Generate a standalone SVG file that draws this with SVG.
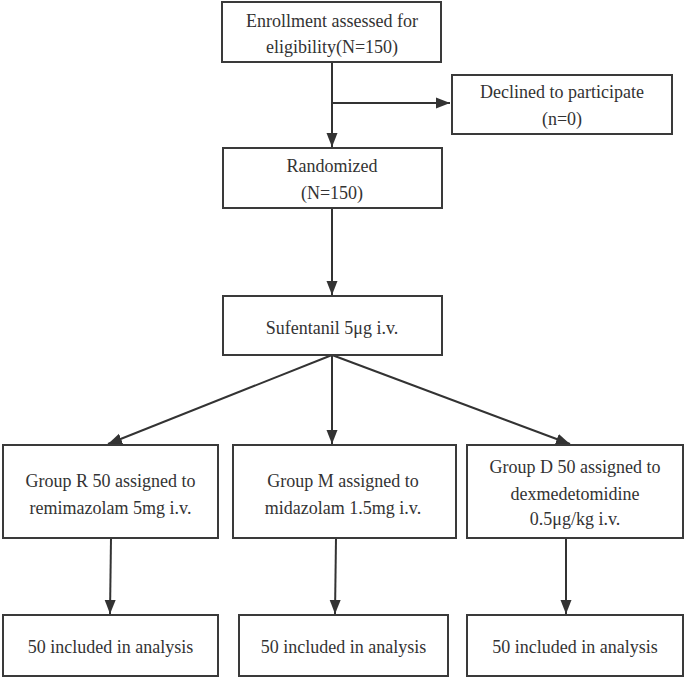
<svg xmlns="http://www.w3.org/2000/svg" width="685" height="677" viewBox="0 0 685 677">
<style>
.box{fill:#fff;stroke:#3a3a3a;stroke-width:2}
.t{font-family:"Liberation Serif","Times New Roman",serif;font-size:18px;fill:#333;text-anchor:middle}
.c{stroke:#333;stroke-width:2;fill:none}
</style>
<defs>
<marker id="ah" markerUnits="userSpaceOnUse" markerWidth="14" markerHeight="14" viewBox="0 0 14 14" refX="14" refY="7" orient="auto">
<path d="M0,1.5 L14,7 L0,12.5 Z" fill="#333"/>
</marker>
</defs>
<rect width="685" height="677" fill="#fff"/>
<g id="connectors">
<line class="c" x1="332" y1="62" x2="332" y2="147" marker-end="url(#ah)"/>
<line class="c" x1="332" y1="103" x2="450" y2="103" marker-end="url(#ah)"/>
<line class="c" x1="332" y1="208" x2="332" y2="295" marker-end="url(#ah)"/>
<line class="c" x1="332" y1="355" x2="108" y2="444" marker-end="url(#ah)"/>
<line class="c" x1="332" y1="355" x2="332" y2="444" marker-end="url(#ah)"/>
<line class="c" x1="332" y1="355" x2="570" y2="444" marker-end="url(#ah)"/>
<line class="c" x1="111" y1="538" x2="110" y2="614" marker-end="url(#ah)"/>
<line class="c" x1="336" y1="538" x2="335" y2="614" marker-end="url(#ah)"/>
<line class="c" x1="566" y1="538" x2="566" y2="614" marker-end="url(#ah)"/>
</g>
<g id="enrollment">
<rect class="box" x="222" y="2" width="219" height="60"/>
<text class="t" x="332" y="27">Enrollment assessed for</text>
<text class="t" x="332" y="53">eligibility(N=150)</text>
</g>
<g id="declined">
<rect class="box" x="452" y="75" width="220" height="59"/>
<text class="t" x="562" y="98">Declined to participate</text>
<text class="t" x="562" y="125">(n=0)</text>
</g>
<g id="randomized">
<rect class="box" x="223" y="148" width="219" height="60"/>
<text class="t" x="332" y="172">Randomized</text>
<text class="t" x="332" y="199">(N=150)</text>
</g>
<g id="sufentanil">
<rect class="box" x="223" y="296" width="219" height="59"/>
<text class="t" x="332" y="334">Sufentanil 5μg i.v.</text>
</g>
<g id="groupR">
<rect class="box" x="3" y="445" width="215" height="93"/>
<text class="t" x="110.5" y="487">Group R 50 assigned to</text>
<text class="t" x="110.5" y="514">remimazolam 5mg i.v.</text>
</g>
<g id="groupM">
<rect class="box" x="233" y="445" width="223" height="93"/>
<text class="t" x="343" y="487">Group M assigned to</text>
<text class="t" x="343" y="514">midazolam 1.5mg i.v.</text>
</g>
<g id="groupD">
<rect class="box" x="467" y="445" width="216" height="93"/>
<text class="t" x="575" y="473">Group D 50 assigned to</text>
<text class="t" x="575" y="500">dexmedetomidine</text>
<text class="t" x="575" y="525">0.5μg/kg i.v.</text>
</g>
<g id="analysisR">
<rect class="box" x="3" y="615" width="215" height="61"/>
<text class="t" x="110.5" y="653">50 included in analysis</text>
</g>
<g id="analysisM">
<rect class="box" x="239" y="615" width="209" height="61"/>
<text class="t" x="343.5" y="653">50 included in analysis</text>
</g>
<g id="analysisD">
<rect class="box" x="467" y="615" width="216" height="61"/>
<text class="t" x="575" y="653">50 included in analysis</text>
</g>
</svg>
